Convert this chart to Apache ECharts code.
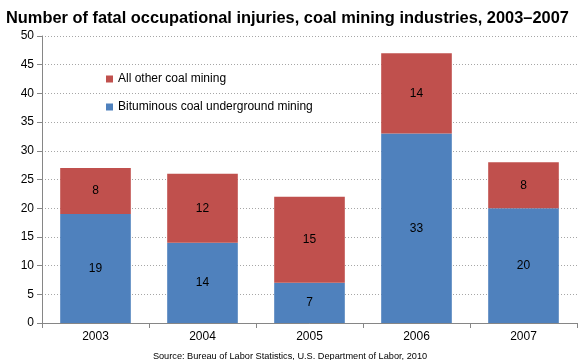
<!DOCTYPE html>
<html><head><meta charset="utf-8">
<script src="https://cdn.jsdelivr.net/npm/echarts@6/dist/echarts.min.js"></script>
<style>html,body{margin:0;padding:0;background:#fff}#c{width:580px;height:360px}</style>
</head><body><div id="c"></div>
<script>
var categories = ['2003','2004','2005','2006','2007'];
var bituminous = [19, 14, 7, 33, 20];
var otherCoal = [8, 12, 15, 14, 8];
var yTicks = [0,5,10,15,20,25,30,35,40,45,50];
var titleText = 'Number of fatal occupational injuries, coal mining industries, 2003\u20132007';
var sourceText = 'Source: Bureau of Labor Statistics, U.S. Department of Labor, 2010';
var F = 'Liberation Sans, Arial, sans-serif';
var chart = echarts.init(document.getElementById('c'));
chart.setOption({
  animation: false,
  title: [
    {text: titleText, left: 1, top: 5, textStyle: {fontFamily: F, fontSize: 16.4, fontWeight: 'bold', color: '#000'}},
    {text: sourceText, left: 'center', top: 347, textStyle: {fontFamily: F, fontSize: 9.2, fontWeight: 'normal', color: '#000'}}
  ],
  legend: {
    orient: 'vertical', left: 101, top: 68, itemGap: 16, itemWidth: 7, itemHeight: 7, icon: 'rect',
    data: ['All other coal mining', 'Bituminous coal underground mining'],
    textStyle: {fontFamily: F, fontSize: 12, color: '#000'}
  },
  grid: {left: 42, right: 3, top: 36, bottom: 37},
  xAxis: {
    type: 'category', data: categories,
    axisLine: {lineStyle: {color: '#868686'}},
    axisTick: {show: true, alignWithLabel: false, lineStyle: {color: '#868686'}},
    axisLabel: {fontFamily: F, fontSize: 12, color: '#000', margin: 8}
  },
  yAxis: {
    type: 'value', min: 0, max: 50, interval: 5,
    axisLine: {show: true, lineStyle: {color: '#868686'}},
    axisTick: {show: true, lineStyle: {color: '#868686'}},
    axisLabel: {fontFamily: F, fontSize: 12, color: '#000', margin: 8},
    splitLine: {lineStyle: {color: '#a6a6a6', type: [1, 2]}}
  },
  series: [
    {name: 'Bituminous coal underground mining', type: 'bar', stack: 't', data: bituminous, barWidth: '66%',
     itemStyle: {color: '#4f81bd'},
     label: {show: true, position: 'inside', fontFamily: F, fontSize: 12, color: '#000'}},
    {name: 'All other coal mining', type: 'bar', stack: 't', data: otherCoal, barWidth: '66%',
     itemStyle: {color: '#c0504d'},
     label: {show: true, position: 'inside', fontFamily: F, fontSize: 12, color: '#000'}}
  ]
});
</script></body></html>
